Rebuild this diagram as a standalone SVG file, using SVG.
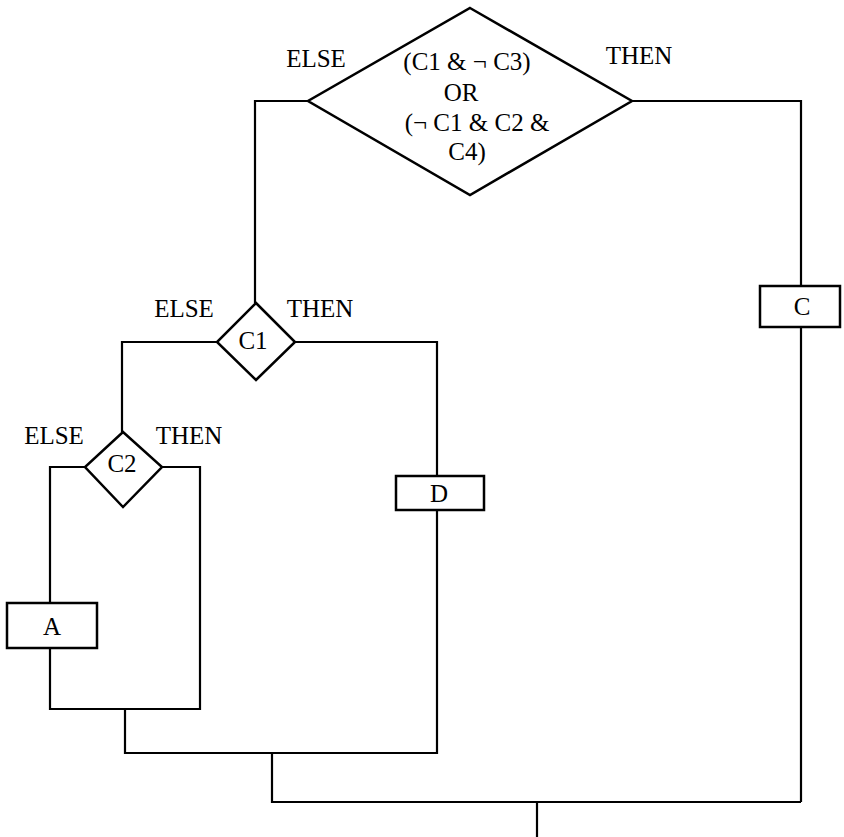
<svg xmlns="http://www.w3.org/2000/svg" width="844" height="837" viewBox="0 0 844 837">
<style>
.s{fill:none;stroke:#000;stroke-width:2.2}
.n{fill:#fff;stroke:#000;stroke-width:2.5}
.t{font-family:"Liberation Serif","Times New Roman",serif;font-size:25px;fill:#000;text-anchor:middle}
</style>
<rect width="844" height="837" fill="#fff"/>
<g id="connectors">
<polyline class="s" points="308,101 255,101 255,303"/>
<polyline class="s" points="632,101 801,101 801,286"/>
<polyline class="s" points="801,327 801,802"/>
<polyline class="s" points="217,342 122,342 122,432"/>
<polyline class="s" points="295,342 437,342 437,476"/>
<polyline class="s" points="85,467 50,467 50,603"/>
<polyline class="s" points="50,648 50,709 200,709 200,467 162,467"/>
<polyline class="s" points="125,709 125,753 437,753 437,510"/>
<polyline class="s" points="272,753 272,802 801,802"/>
<polyline class="s" points="537,802 537,837"/>
</g>
<g id="cond_top">
<polygon class="n" points="470,8 632,101 470,195 308,101"/>
<text class="t" x="467" y="70">(C1 &amp; ¬ C3)</text>
<text class="t" x="461" y="101">OR</text>
<text class="t" x="477" y="131">(¬ C1 &amp; C2 &amp;</text>
<text class="t" x="467" y="160">C4)</text>
<text class="t" x="316" y="67">ELSE</text>
<text class="t" x="639" y="64">THEN</text>
</g>
<g id="cond_c1">
<polygon class="n" points="256,303 295,342 256,380 217,342"/>
<text class="t" x="253" y="349">C1</text>
<text class="t" x="184" y="317">ELSE</text>
<text class="t" x="320" y="317">THEN</text>
</g>
<g id="cond_c2">
<polygon class="n" points="123,432 162,467 123,507 85,467"/>
<text class="t" x="122" y="472">C2</text>
<text class="t" x="54" y="444">ELSE</text>
<text class="t" x="189" y="444">THEN</text>
</g>
<g id="box_c">
<rect class="n" x="760" y="286" width="80" height="41"/>
<text class="t" x="802" y="315">C</text>
</g>
<g id="box_d">
<rect class="n" x="396" y="476" width="88" height="34"/>
<text class="t" x="439" y="502">D</text>
</g>
<g id="box_a">
<rect class="n" x="7" y="603" width="90" height="45"/>
<text class="t" x="52" y="635">A</text>
</g>
</svg>
